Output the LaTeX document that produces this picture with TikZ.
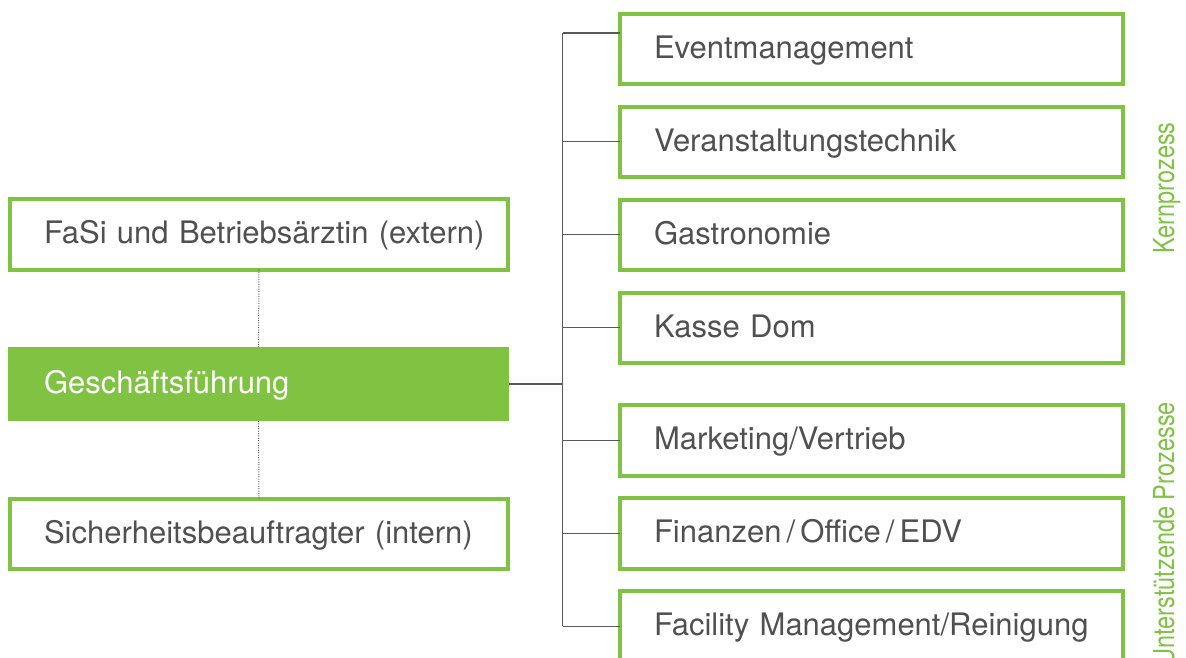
\documentclass[tikz,border=0pt]{standalone}
\usepackage{fontspec}
\setmainfont{TeX Gyre Heros}
\usepackage{tikz}

\definecolor{gruen}{HTML}{80C342}
\definecolor{textgrau}{HTML}{505050}
\definecolor{liniengrau}{HTML}{5A5A5A}

\tikzset{
  rbox/.style={draw=gruen, line width=4pt, anchor=north west, outer sep=0pt,
    minimum width=503pt, minimum height=70.5pt, text width=435pt,
    inner xsep=34pt, inner ysep=0pt, align=left, text=textgrau,
    font=\fontsize{31}{37}\selectfont, text height=26pt, text depth=7pt},
  lbox/.style={rbox, minimum width=498pt, text width=430pt},
  gfbox/.style={lbox, draw=none, fill=gruen, text=white,
    minimum width=501pt, text width=429pt, inner xsep=36pt, minimum height=74pt},
  linie/.style={draw=liniengrau, line width=1.2pt},
  punktlinie/.style={draw=liniengrau, line width=1pt, dash pattern=on 1pt off 1.4pt},
  seite/.style={text=gruen, rotate=90, inner sep=0pt, font=\fontsize{29}{34}\selectfont}
}

\begin{document}
\begin{tikzpicture}[x=1pt, y=-1pt]
    \def \stammx {562.5} % x of the vertical trunk
    \clip (0,0) rectangle (1186,657);
    \fill[white] (0,0) rectangle (1186,657);

    % left column
    \node[lbox] (fasi) at (10,199) {\mbox{FaSi und Betriebsärztin (extern)}};
    \node[gfbox] (gf) at (8,347) {Geschäftsführung};
    \node[lbox] (sb) at (10,498.5) {\mbox{Sicherheitsbeauftragter (intern)}};
    \draw[punktlinie] (fasi.south) -- (gf.north);
    \draw[punktlinie] (gf.south) -- (sb.north);

    % right column
    \coordinate (stamm) at (\stammx,0);
    \node[rbox] (ev) at (620,13.5) {Eventmanagement};
    \coordinate (evan) at (620,33);
    \draw[linie] (stamm |- evan) -- (evan);
    \foreach \name/\oben/\txt in {vt/106.5/Veranstaltungstechnik, ga/199.5/Gastronomie,
        kd/292.5/Kasse Dom, mv/405/Marketing\slash Vertrieb,
        fi/498/Finanzen\,\slash\,Office\,\slash\,EDV, fm/591/Facility Management\slash Reinigung}
    {
      \node[rbox] (\name) at (620,\oben) {\txt};
      \draw[linie] (stamm |- \name.west) -- (\name.west);
    }
    \draw[linie] (stamm |- evan) -- (stamm |- fm.west);
    \draw[linie] (gf.east) -- (stamm |- gf.east);

    % side labels
    \node[seite, anchor=base] (kern) at (1174,188) {\scalebox{0.81}[1]{Kernprozess}};
    \node[seite, anchor=base east] (unter) at (1174,402) {\scalebox{0.81}[1]{Unterstützende Prozesse}};
\end{tikzpicture}
\end{document}
